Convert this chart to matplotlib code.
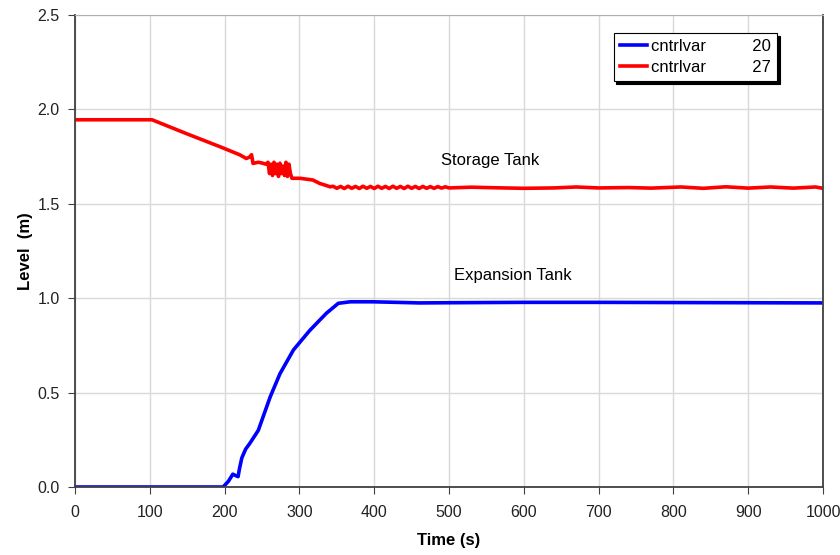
import matplotlib
matplotlib.use("Agg")
from matplotlib import pyplot as plt

# Expansion tank level (cntrlvar 20)
exp_time = [0, 100, 198, 205, 211, 215, 218, 220, 223, 228, 234, 245, 261, 274, 292, 314, 336, 352,
            368, 398, 430, 460, 500, 600, 700, 800, 900, 1000]
exp_level = [0.0, 0.0, 0.0, 0.03, 0.068, 0.06, 0.055, 0.1, 0.154, 0.2, 0.233, 0.30, 0.478, 0.60, 0.726,
             0.83, 0.92, 0.973, 0.981, 0.981, 0.978, 0.975, 0.976, 0.978, 0.978, 0.977, 0.976, 0.975]

# Storage tank level (cntrlvar 27)
sto_time = [0, 50, 103, 150, 194, 220, 229, 232, 234, 236, 238, 245, 251, 255,
            258, 260, 262, 264, 266, 268, 270, 272, 274, 276, 278, 280, 282, 284, 286, 288,
            290, 301, 318, 327, 335, 341,
            345, 350, 355, 360, 365, 370, 375, 380, 385, 390, 395, 400, 405, 410, 415, 420,
            425, 430, 435, 440, 445, 450, 455, 460, 465, 470, 475, 480, 485, 490, 495, 500,
            530, 560, 600, 640, 670, 700, 740, 770, 810, 840, 870, 900, 930, 960, 990, 1000]
sto_level = [1.945, 1.945, 1.945, 1.87, 1.802, 1.76, 1.74, 1.745, 1.75, 1.76, 1.714, 1.72, 1.715, 1.71,
             1.72, 1.66, 1.71, 1.65, 1.72, 1.66, 1.71, 1.645, 1.715, 1.66, 1.70, 1.65, 1.72, 1.645, 1.71, 1.66,
             1.635, 1.635, 1.626, 1.608, 1.598, 1.59,
             1.593, 1.582, 1.592, 1.581, 1.593, 1.582, 1.592, 1.581, 1.593, 1.582, 1.592, 1.581, 1.593, 1.582,
             1.592, 1.581, 1.593, 1.582, 1.592, 1.581, 1.593, 1.582, 1.592, 1.581, 1.592, 1.582, 1.591, 1.582,
             1.591, 1.583, 1.59, 1.584,
             1.588, 1.585, 1.582, 1.584, 1.589, 1.584, 1.586, 1.583, 1.589, 1.582, 1.59, 1.583, 1.589, 1.583,
             1.589, 1.582]

x_ticks = [0, 100, 200, 300, 400, 500, 600, 700, 800, 900, 1000]
y_ticks = [0.0, 0.5, 1.0, 1.5, 2.0, 2.5]

plt.rcParams['font.family'] = ['Liberation Sans', 'DejaVu Sans']

fig = plt.figure(figsize=(8.4, 5.55), dpi=100)
ax = fig.add_axes([0.0893, 0.1225, 0.8905, 0.8505])

ax.plot(exp_time, exp_level, color="#0000ff", linewidth=2.6, label="cntrlvar          20")
ax.plot(sto_time, sto_level, color="#ff0000", linewidth=2.6, label="cntrlvar          27")

ax.set_xlim(0, 1000)
ax.set_ylim(0, 2.5)
ax.set_xticks(x_ticks)
ax.set_yticks(y_ticks)
ax.set_yticklabels([f"{v:.1f}" for v in y_ticks])
ax.tick_params(labelsize=11.5, direction="out", length=5, color="#404040", labelcolor="#222222")
ax.tick_params(axis="x", pad=8)
ax.tick_params(axis="y", pad=6)
ax.grid(True, color="#d9d9d9", linewidth=1)
ax.set_axisbelow(True)

ax.spines["top"].set_color("#b0b0b0")
for side in ["left", "bottom", "right"]:
    ax.spines[side].set_color("#404040")
    ax.spines[side].set_linewidth(1.3)

ax.set_xlabel("Time (s)", fontsize=12, fontweight="bold", labelpad=9)
ax.set_ylabel("Level  (m)", fontsize=12, fontweight="bold", labelpad=3)

ax.text(555, 1.73, "Storage Tank", fontsize=12, ha="center", va="center")
ax.text(585, 1.12, "Expansion Tank", fontsize=12, ha="center", va="center")

leg = ax.legend(loc="upper left", bbox_to_anchor=(0.72, 0.962), fontsize=12, frameon=True,
                fancybox=False, shadow={'color': 'black', 'alpha': 1}, edgecolor="black",
                handlelength=1.6, handletextpad=0.25, borderaxespad=0, framealpha=1,
                labelspacing=0.35, borderpad=0.38)
leg.get_frame().set_linewidth(0.8)

fig.savefig("out.png", dpi=100)
